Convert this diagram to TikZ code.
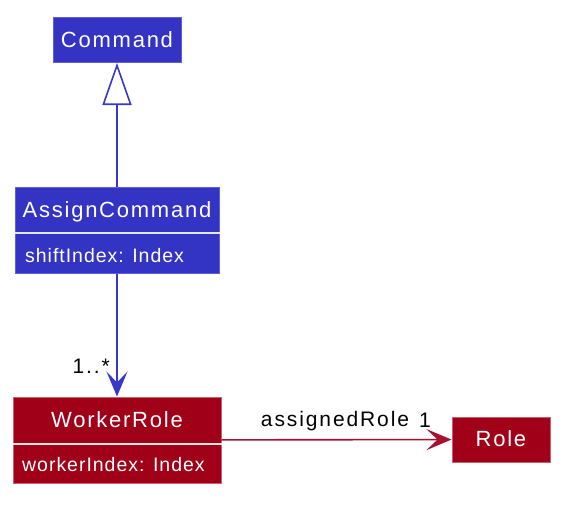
\documentclass[tikz,border=0pt]{standalone}
\usepackage{fontspec}
\setmainfont{Liberation Sans}
\newfontfamily\titlefont[LetterSpace=8]{Liberation Sans}
\newfontfamily\attrfont[LetterSpace=5]{Liberation Sans}
\newfontfamily\labelfont[LetterSpace=9]{Liberation Sans}
\usetikzlibrary{arrows.meta}
\definecolor{bluefill}{RGB}{52,52,196}
\definecolor{blueedge}{RGB}{96,96,220}
\definecolor{blueline}{RGB}{56,56,200}
\definecolor{redfill}{RGB}{160,0,24}
\definecolor{rededge}{RGB}{200,96,112}
\definecolor{redline}{RGB}{168,16,48}
\begin{document}
\begin{tikzpicture}[x=1pt,y=-1pt,
  bluebox/.style={draw=blueedge, fill=bluefill, line width=1pt, inner sep=0pt},
  redbox/.style={draw=rededge, fill=redfill, line width=1pt, inner sep=0pt},
  titletext/.style={text=white, font=\titlefont\fontsize{22}{26}\selectfont, inner sep=0pt, anchor=base},
  attrtext/.style={text=white, font=\attrfont\fontsize{19.5}{23}\selectfont, inner sep=0pt, anchor=base west},
  labeltext/.style={text=black, font=\labelfont\fontsize{21}{25}\selectfont, inner sep=0pt},
  bluedivider/.style={draw=blue!10!white, line width=1.2pt},
  reddivider/.style={draw=red!10!white, line width=1.2pt},
  generalize/.style={draw=blueline, line width=1.6pt, -{Triangle[open, length=42pt, width=29pt, fill=white]}},
  blueassoc/.style={draw=blueline, line width=1.6pt, -{Stealth[length=25pt, width=21pt, inset=11pt]}},
  redassoc/.style={draw=redline, line width=1.6pt, -{Stealth[length=25pt, width=21pt, inset=11pt]}}
]
\useasboundingbox[fill=white] (0,0) rectangle (571,504);

% Command
\node[bluebox, minimum width=128pt, minimum height=45pt] (cmd) at (117,40) {};
\node[titletext] (cmdT) at (117,47.3) {Command};

% AssignCommand
\node[bluebox, minimum width=204pt, minimum height=86pt] (assign) at (117,230) {};
\node[titletext] (assignT) at (117,217.3) {AssignCommand};
\coordinate (assignDiv) at (0,233);
\draw[bluedivider] (assign.west |- assignDiv) -- (assign.east |- assignDiv);
\node[attrtext] (assignA) at (25,262) {shiftIndex: Index};

% WorkerRole
\node[redbox, minimum width=208pt, minimum height=86pt] (worker) at (117,440) {};
\node[titletext] (workerT) at (117,427.3) {WorkerRole};
\coordinate (workerDiv) at (0,444);
\draw[reddivider] (worker.west |- workerDiv) -- (worker.east |- workerDiv);
\node[attrtext] (workerA) at (22,471.5) {workerIndex: Index};

% Role
\node[redbox, minimum width=98pt, minimum height=45pt] (role) at (501,439.5) {};
\node[titletext] (roleT) at (501,446.7) {Role};

% connectors
\draw[generalize] (assign) -- (cmd);
\draw[blueassoc] (assign) -- (worker);
\draw[redassoc] (worker) -- (role);

% labels
\node[labeltext, anchor=base east] (multWorker) at (110,373) {1..*};
\node[labeltext, anchor=base] (assignedLbl) at (335,426.7) {assignedRole};
\node[labeltext, anchor=base] (multRole) at (425,427) {1};
\end{tikzpicture}
\end{document}
